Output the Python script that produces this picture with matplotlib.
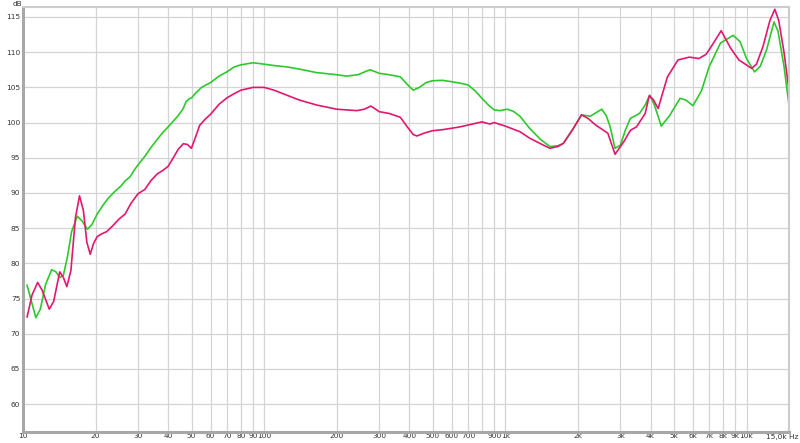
import matplotlib
matplotlib.use("Agg")
import matplotlib.pyplot as plt
from matplotlib.ticker import FixedLocator, NullLocator

# ---- data ----
green_f = [10.4, 10.8, 11.3, 11.8, 12.4, 13.15, 13.7, 14.2, 14.7, 15.3, 15.9, 16.8, 17.6, 18.5, 19.3,
           20.3, 21.5, 22.5, 24, 25.5, 26.5, 27.8, 29, 30, 32, 34, 36, 38, 40, 42, 44, 46, 47.5, 49, 50,
           52, 55, 60, 65, 70, 75, 80, 90, 100, 110, 125, 140, 165, 200, 220, 245, 265, 275, 290, 300,
           330, 367, 390, 415, 440, 470, 500, 550, 600, 650, 700, 750, 800, 850, 900, 950, 1020, 1080,
           1150, 1260, 1400, 1530, 1650, 1740, 1900, 2070, 2250, 2400, 2510, 2620, 2720, 2850, 3000,
           3150, 3300, 3600, 3800, 3970, 4150, 4430, 4800, 5300, 5600, 6000, 6500, 7000, 7800, 8800,
           9400, 10000, 10800, 11400, 12100, 13000, 13500, 14300, 15000]
green_db = [76.9, 74.8, 72.3, 73.5, 77.0, 79.1, 78.8, 78.0, 78.3, 81.0, 84.5, 86.7, 86.0, 84.85, 85.5,
            87.0, 88.3, 89.2, 90.2, 91.0, 91.7, 92.3, 93.3, 94.0, 95.2, 96.5, 97.6, 98.6, 99.4, 100.2,
            101.0, 101.9, 103.0, 103.4, 103.5, 104.2, 105.0, 105.7, 106.6, 107.2, 107.9, 108.2, 108.5,
            108.3, 108.1, 107.9, 107.6, 107.1, 106.8, 106.6, 106.8, 107.3, 107.5, 107.2, 107.0, 106.8,
            106.5, 105.5, 104.6, 105.0, 105.7, 105.95, 106.0, 105.8, 105.6, 105.35, 104.5, 103.45,
            102.5, 101.8, 101.7, 101.9, 101.6, 100.9, 99.2, 97.6, 96.6, 96.7, 97.05, 99.0, 101.1,
            100.9, 101.5, 101.9, 101.0, 99.4, 96.35, 96.8, 99.0, 100.6, 101.3, 102.5, 103.9, 102.5,
            99.5, 101.0, 103.45, 103.2, 102.4, 104.5, 107.95, 111.3, 112.4, 111.5, 109.1, 107.2,
            108.0, 110.3, 114.3, 113.0, 108.0, 102.5]

magenta_f = [10.4, 10.9, 11.5, 12.0, 12.85, 13.4, 14.2, 14.7, 15.2, 15.8, 16.5, 17.15, 17.8, 18.4, 19.0,
             19.6, 20.3, 21.2, 22.2, 23.5, 25, 26.5, 28, 30, 32, 34, 36, 38, 40, 42, 44, 46.2, 48, 49.9,
             52, 54, 57, 60, 65, 70, 75, 80, 90, 100, 110, 124, 140, 165, 200, 242, 260, 277, 290, 300,
             330, 367, 390, 415, 430, 460, 500, 550, 600, 650, 700, 800, 862, 900, 1000, 1150, 1260,
             1400, 1530, 1650, 1740, 1900, 2070, 2200, 2370, 2660, 2850, 3100, 3300, 3500, 3800, 3950,
             4100, 4300, 4700, 5200, 5800, 6350, 6800, 7200, 7850, 8600, 9300, 10500, 11000, 11700,
             12500, 13100, 13600, 14300, 15000]
magenta_db = [72.4, 75.5, 77.3, 76.2, 73.5, 74.6, 78.8, 78.0, 76.7, 79.0, 86.5, 89.6, 87.5, 83.0, 81.3,
              82.8, 83.8, 84.2, 84.5, 85.3, 86.3, 87.0, 88.5, 89.9, 90.5, 91.8, 92.7, 93.2, 93.8, 95.0,
              96.2, 97.0, 96.9, 96.35, 98.0, 99.6, 100.5, 101.2, 102.6, 103.5, 104.1, 104.6, 105.0,
              105.0, 104.6, 103.9, 103.2, 102.5, 101.9, 101.7, 101.9, 102.35, 101.9, 101.55, 101.3,
              100.75, 99.5, 98.3, 98.1, 98.5, 98.85, 99.0, 99.2, 99.4, 99.65, 100.1, 99.8, 100.0, 99.5,
              98.7, 97.8, 97.0, 96.35, 96.6, 97.05, 99.0, 101.1, 100.6, 99.65, 98.5, 95.5, 97.3, 98.9,
              99.4, 101.3, 103.8, 103.3, 102.0, 106.5, 108.9, 109.3, 109.1, 109.7, 111.0, 113.05,
              110.55, 108.9, 107.7, 108.3, 110.8, 114.5, 116.1, 114.5, 110.0, 104.6]

x_ticks = [10, 20, 30, 40, 50, 60, 70, 80, 90, 100, 200, 300, 400, 500, 600, 700, 800, 900,
           1000, 2000, 3000, 4000, 5000, 6000, 7000, 8000, 9000, 10000]
x_labels = ["10", "20", "30", "40", "50", "60", "70", "80", "90", "100", "200", "300", "400", "500",
            "600", "700", "", "900", "1k", "2k", "3k", "4k", "5k", "6k", "7k", "8k", "9k", "10k"]
y_ticks = [60, 65, 70, 75, 80, 85, 90, 95, 100, 105, 110, 115]

# ---- figure ----
fig = plt.figure(figsize=(8, 4.43), dpi=100)
ax = fig.add_axes([23 / 800, 1 - 432 / 443, (789 - 23) / 800, (432 - 7) / 443])
ax.set_xscale("log")
ax.set_xlim(10, 15000)
ax.set_ylim(56.05, 116.42)

ax.xaxis.set_major_locator(FixedLocator(x_ticks))
ax.xaxis.set_minor_locator(NullLocator())
ax.set_xticks(x_ticks)
ax.set_xticklabels(x_labels)
ax.set_yticks(y_ticks)
ax.set_yticklabels([str(v) for v in y_ticks])
ax.tick_params(axis="both", length=0, labelsize=5.3, labelcolor="#333333")
ax.tick_params(axis="x", pad=0.8)
ax.tick_params(axis="y", pad=2)
ax.grid(True, color="#d4d4d4", linewidth=0.9)
ax.set_axisbelow(True)

for side in ("left", "bottom"):
    ax.spines[side].set_color("#a8a8a8")
    ax.spines[side].set_linewidth(2.2)
for side in ("top", "right"):
    ax.spines[side].set_color("#cccccc")
    ax.spines[side].set_linewidth(1.5)

ax.plot(green_f, green_db, color="#2ec82e", linewidth=1.2, solid_joinstyle="round")
ax.plot(magenta_f, magenta_db, color="#e3176f", linewidth=1.2, solid_joinstyle="round")

fig.text(13 / 800, 1 - 4 / 443, "dB", fontsize=5.3, color="#333333", ha="left", va="center")
fig.text(798 / 800, 1 - 436.5 / 443, "15,0k Hz", fontsize=5.3, color="#333333", ha="right", va="center")

fig.savefig("out.png", dpi=100, facecolor="white")
